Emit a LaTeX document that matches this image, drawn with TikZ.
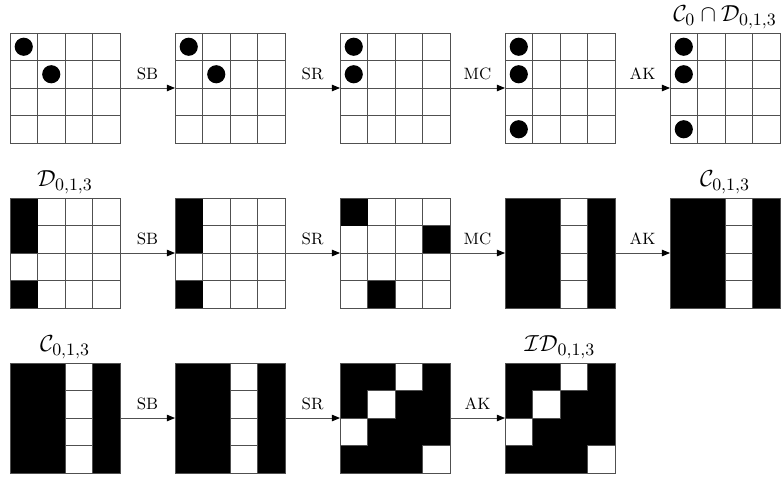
\documentclass[tikz,border=0pt]{standalone}
\usepackage{amsmath,amssymb}
\usepackage{tikz}
\usetikzlibrary{positioning,arrows.meta,calc}
\definecolor{cGrid}{HTML}{505050}

\begin{document}
\begin{tikzpicture}[
  x=5mm, y=5mm,
  >={Triangle[length=1.5mm,width=1.2mm,color=black]},
  st/.style={minimum size=20mm, inner sep=0pt, outer sep=0pt},
  cl/.style={draw=cGrid, line width=0.45pt},
  dot/.style={circle, fill=black, inner sep=0pt, minimum size=3.3mm},
  fl/.style={->, draw=cGrid, line width=0.45pt},
  lb/.style={above=3pt, font=\fontsize{8.5}{10}\selectfont, inner sep=1pt},
  ttl/.style={font=\fontsize{12.6}{15}\selectfont, inner sep=1pt},
  node distance=10mm]

\useasboundingbox (-1.82mm,6mm) rectangle (140.54mm,-81.09mm);

% ================= state grids =================
\node[st, anchor=north west] (a1) at (0,0) {};
\node[st, right=of a1] (a2) {};
\node[st, right=of a2] (a3) {};
\node[st, right=of a3] (a4) {};
\node[st, right=of a4] (a5) {};
\node[st, below=of a1] (b1) {};
\node[st, right=of b1] (b2) {};
\node[st, right=of b2] (b3) {};
\node[st, right=of b3] (b4) {};
\node[st, right=of b4] (b5) {};
\node[st, below=of b1] (c1) {};
\node[st, right=of c1] (c2) {};
\node[st, right=of c2] (c3) {};
\node[st, right=of c3] (c4) {};

% cells
\foreach \g in {a1,a2,a3,a4,a5,b1,b2,b3,b4,b5,c1,c2,c3,c4}
  \foreach \r in {0,...,3} \foreach \c in {0,...,3}
    \draw[cl] ($(\g.north west)+(\c,-\r)$) rectangle ++(1,-1);

% active bytes
\foreach \g/\r/\c in {b1/0/0,b1/1/0,b1/3/0,b2/0/0,b2/1/0,b2/3/0,b3/0/0,b3/1/3,b3/3/1}
  \fill ($(\g.north west)+(\c,-\r)$) rectangle ++(1,-1);
\foreach \g in {b4,b5,c1,c2} \foreach \c in {0,1,3}
  \fill ($(\g.north west)+(\c,0)$) rectangle ++(1,-4);
\foreach \g in {c3,c4} {
  \fill (\g.north west) rectangle (\g.south east);
  \foreach \r/\c in {0/2,1/1,2/0,3/3}
    \draw[cl, fill=white] ($(\g.north west)+(\c,-\r)$) rectangle ++(1,-1);
}
\foreach \g in {a1,a2,a3,a4,a5,b1,b2,b3,b4,b5,c1,c2,c3,c4}
  \draw[cl] (\g.north west) rectangle (\g.south east);

% dots
\foreach \g/\r/\c in {a1/0/0,a1/1/1,a2/0/0,a2/1/1,a3/0/0,a3/1/0,
                      a4/0/0,a4/1/0,a4/3/0,a5/0/0,a5/1/0,a5/3/0}
  \node[dot] (d\g\r\c) at ($(\g.north west)+(\c+0.5,-\r-0.5)$) {};

% round steps
\foreach \s/\t/\l in {a1/a2/SB,a2/a3/SR,a3/a4/MC,a4/a5/AK,
                      b1/b2/SB,b2/b3/SR,b3/b4/MC,b4/b5/AK,
                      c1/c2/SB,c2/c3/SR,c3/c4/AK}
  \draw[fl] (\s.east) -- node[lb] (l\s) {\l} (\t.west);

% ---- titles ----
\node[ttl, above=0.4mm of a5] (ta5) {$\mathcal{C}_0\cap\mathcal{D}_{0,1,3}$};
\node[ttl, above=0.4mm of b1] (tb1) {$\mathcal{D}_{0,1,3}$};
\node[ttl, above=0.4mm of b5] (tb5) {$\mathcal{C}_{0,1,3}$};
\node[ttl, above=0.4mm of c1] (tc1) {$\mathcal{C}_{0,1,3}$};
\node[ttl, above=0.4mm of c4] (tc4) {$\mathcal{ID}_{0,1,3}$};
\end{tikzpicture}
\end{document}
